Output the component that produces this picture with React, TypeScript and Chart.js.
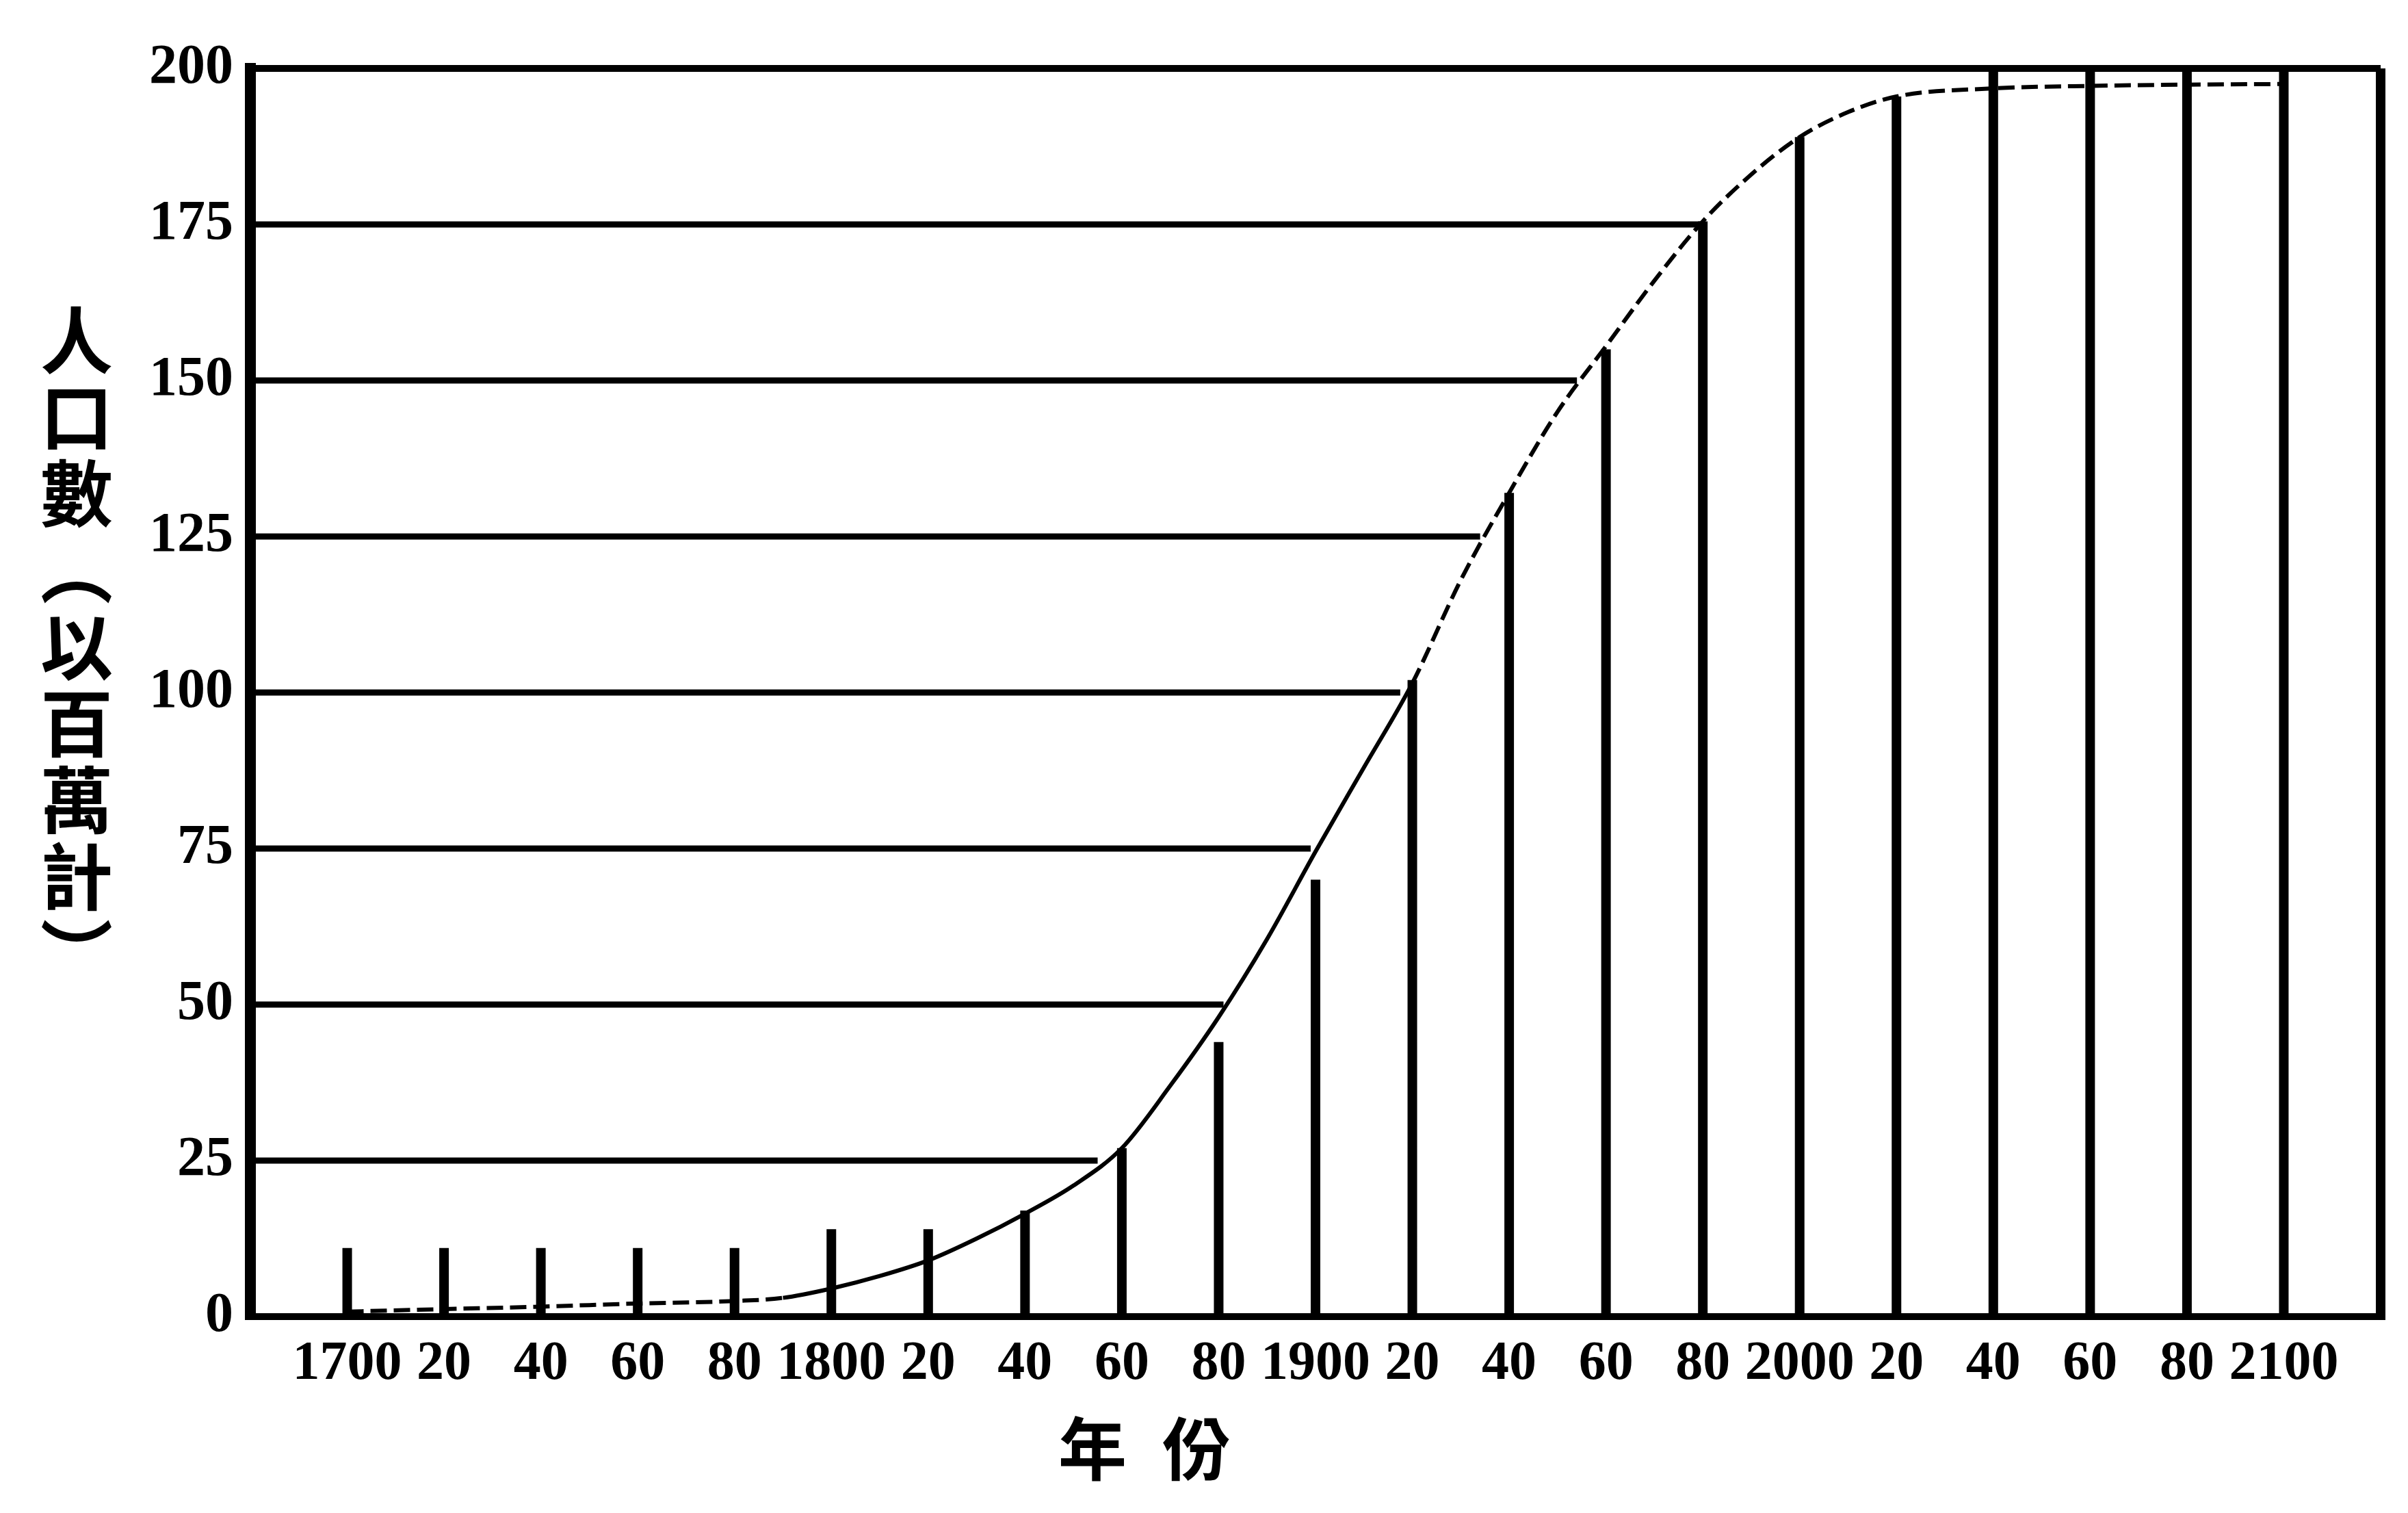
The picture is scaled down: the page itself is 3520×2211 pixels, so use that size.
import { useEffect, useRef } from "react";
import { Chart, registerables } from "chart.js";

Chart.register(...registerables);

// ---- data ----
const curveYears = [1700, 1720, 1740, 1760, 1780, 1790, 1800, 1810, 1820, 1830, 1840, 1850, 1860, 1870, 1880, 1890, 1900, 1910, 1920, 1930, 1940, 1950, 1960, 1970, 1980, 1990, 2000, 2010, 2020, 2040, 2060, 2080, 2100];
const curveValues = [0.8, 1.2, 1.6, 2.1, 2.5, 3, 4.5, 6.5, 9, 12.5, 16.5, 21, 27, 37, 48, 60.5, 74.5, 88, 101.5, 118, 132, 145, 155.5, 166, 175.5, 183, 189, 193, 195.5, 196.8, 197.2, 197.4, 197.5];

const dropYears = [1700, 1720, 1740, 1760, 1780, 1800, 1820, 1840, 1860, 1880, 1900, 1920, 1940, 1960, 1980, 2000, 2020, 2040, 2060, 2080, 2100];
const dropValues = [11, 11, 11, 11, 11, 14, 14, 17, 27, 44, 70, 102, 132, 155, 175.5, 189, 195.5, 200, 200, 200, 200];

const gridValues = [25, 50, 75, 100, 125, 150, 175];
const gridEndYears = [1855, 1881, 1899, 1917.5, 1934, 1954, 1979.5];

const xTickYears = [1700, 1720, 1740, 1760, 1780, 1800, 1820, 1840, 1860, 1880, 1900, 1920, 1940, 1960, 1980, 2000, 2020, 2040, 2060, 2080, 2100];
const xTickLabels = ["1700", "20", "40", "60", "80", "1800", "20", "40", "60", "80", "1900", "20", "40", "60", "80", "2000", "20", "40", "60", "80", "2100"];

const X_MIN = 1680;
const X_MAX = 2120;
const Y_MIN = 0;
const Y_MAX = 200;
const Y_STEP = 25;

const yTitle = "人口數（以百萬計）";
const xTitle = ["年", "份"];

const INK = "#000000";
const CJK_FONT = '"Noto Sans CJK TC", "Noto Sans CJK SC", sans-serif';

const xTitlePlugin = {
  id: "xTitleCjk",
  afterDraw(chart: any) {
    const { ctx, chartArea } = chart;
    ctx.save();
    ctx.fillStyle = INK;
    ctx.textAlign = "center";
    ctx.textBaseline = "middle";
    ctx.font = `bold 100px ${CJK_FONT}`;
    const cx = chartArea.left + 1307;
    const cy = chartArea.bottom + 193;
    ctx.fillText(xTitle[0], cx - 76, cy);
    ctx.fillText(xTitle[1], cx + 76, cy);
    ctx.restore();
  },
};

export default function App() {
  const canvasRef = useRef<HTMLCanvasElement | null>(null);

  useEffect(() => {
    if (!canvasRef.current) return;

    const curveData = curveYears.map((x, i) => ({ x, y: curveValues[i] }));
    const dropData: any[] = [];
    dropYears.forEach((x, i) => {
      dropData.push({ x, y: 0 }, { x, y: dropValues[i] }, { x, y: null });
    });
    const hData: any[] = [];
    gridValues.forEach((v, i) => {
      hData.push({ x: X_MIN, y: v }, { x: gridEndYears[i], y: v }, { x: gridEndYears[i], y: null });
    });

    const chart = new Chart(canvasRef.current, {
      type: "line",
      data: {
        datasets: [
          {
            label: "curve",
            data: curveData,
            borderColor: INK,
            borderWidth: 6,
            pointRadius: 0,
            fill: false,
            cubicInterpolationMode: "monotone",
            segment: {
              borderDash: (ctx: any) =>
                ctx.p1.parsed.x <= 1790 || ctx.p0.parsed.x >= 1920 ? [24, 10] : undefined,
            },
          } as any,
          {
            label: "drops",
            data: dropData,
            borderColor: INK,
            borderWidth: 14,
            pointRadius: 0,
            fill: false,
            spanGaps: false,
            tension: 0,
            borderCapStyle: "butt",
          } as any,
          {
            label: "levels",
            data: hData,
            borderColor: INK,
            borderWidth: 9,
            pointRadius: 0,
            fill: false,
            spanGaps: false,
            tension: 0,
            borderCapStyle: "butt",
          } as any,
        ],
      },
      options: {
        animation: false,
        responsive: true,
        maintainAspectRatio: false,
        layout: { padding: { left: 0, top: 100, right: 40, bottom: 0 } },
        plugins: {
          legend: { display: false },
          tooltip: { enabled: false },
        },
        scales: {
          x: {
            type: "linear",
            min: X_MIN,
            max: X_MAX,
            afterBuildTicks: (scale: any) => {
              scale.ticks = [X_MIN, ...xTickYears, X_MAX].map((v) => ({ value: v }));
            },
            afterFit: (scale: any) => {
              scale.height = 287;
            },
            ticks: {
              autoSkip: false,
              maxRotation: 0,
              minRotation: 0,
              padding: 22,
              color: INK,
              font: { family: '"Liberation Serif", "DejaVu Serif", serif', size: 80, weight: "bold" },
              callback: (value: any) => {
                const i = xTickYears.indexOf(Number(value));
                return i >= 0 ? xTickLabels[i] : "";
              },
            },
            grid: {
              drawTicks: false,
              lineWidth: 14,
              color: (ctx: any) => (ctx.tick && ctx.tick.value === X_MAX ? INK : "rgba(0,0,0,0)"),
            },
            border: { display: true, color: INK, width: 10 },
          },
          y: {
            type: "linear",
            min: Y_MIN,
            max: Y_MAX,
            afterFit: (scale: any) => {
              scale.width = 366;
            },
            ticks: {
              stepSize: Y_STEP,
              padding: 25,
              color: INK,
              font: { family: '"Liberation Serif", "DejaVu Serif", serif', size: 82, weight: "bold" },
            },
            grid: {
              drawTicks: false,
              lineWidth: 10,
              color: (ctx: any) => (ctx.tick && ctx.tick.value === Y_MAX ? INK : "rgba(0,0,0,0)"),
            },
            border: { display: true, color: INK, width: 16 },
          },
        },
      },
      plugins: [xTitlePlugin],
    });

    return () => chart.destroy();
  }, []);

  return (
    <div style={{ position: "fixed", left: 0, top: 0, width: "3520px", height: "2211px", background: "#fff" }}>
      <canvas ref={canvasRef} />
      <div
        style={{
          position: "absolute",
          left: "59px",
          top: "444px",
          writingMode: "vertical-rl",
          textOrientation: "mixed",
          fontFamily: CJK_FONT,
          fontWeight: 700,
          fontSize: "106px",
          lineHeight: 1,
          letterSpacing: "6px",
          color: INK,
          whiteSpace: "nowrap",
        }}
      >
        {yTitle}
      </div>
    </div>
  );
}
